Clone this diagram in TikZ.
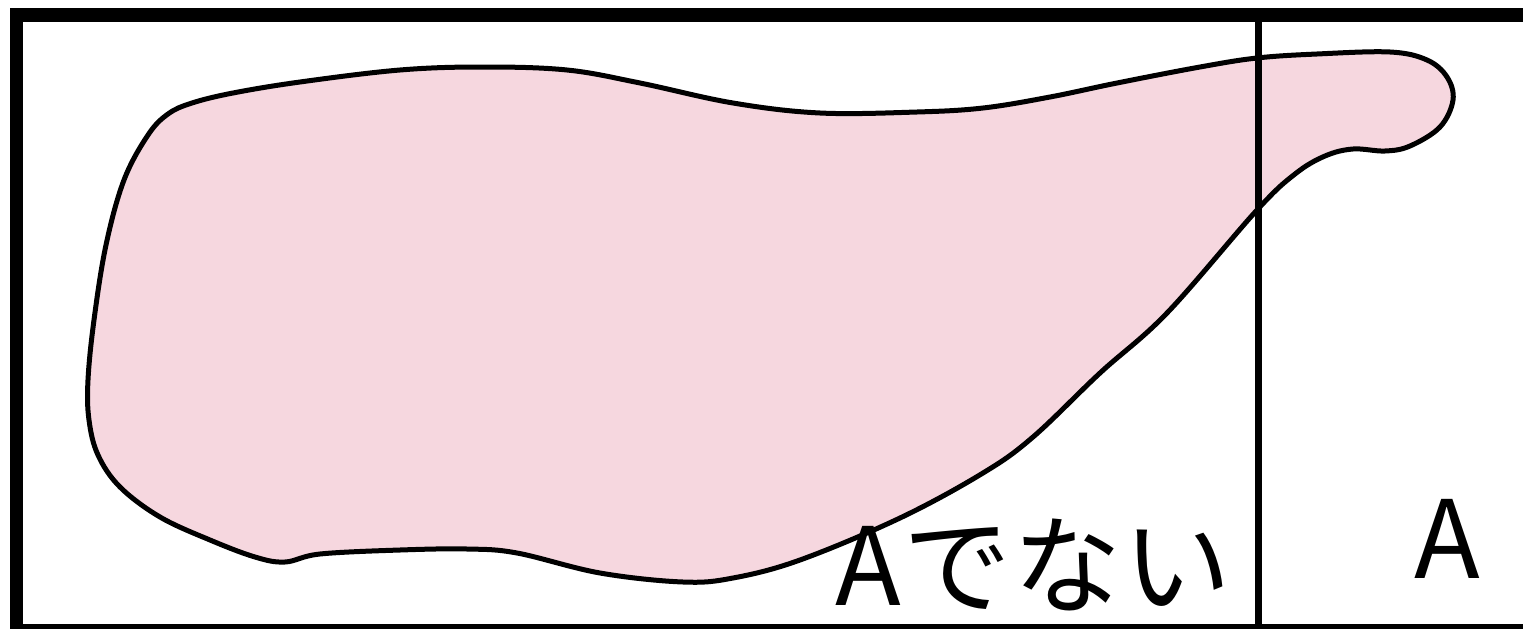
\documentclass[tikz,border=0pt]{standalone}
\usepackage{fontspec}
\setmainfont{Noto Sans CJK JP}
\usepackage{tikz}
\usepackage{xcolor}
\definecolor{ink}{HTML}{000000}
\definecolor{blobpink}{HTML}{F6D7DF}
\tikzset{
  frame/.style={draw=ink,line width=13.5pt},
  divider/.style={draw=ink,line width=7pt},
  blob/.style={draw=ink,fill=blobpink,line width=5pt,line join=round},
  setlabel/.style={inner sep=0pt,text=ink,
                   font=\fontsize{108}{120}\selectfont}
}
\begin{document}
\begin{tikzpicture}[x=1pt,y=-1pt]
    \path[use as bounding box] (0,0) rectangle (1523,629);
    \clip (0,0) rectangle (1523,629);

    % the set, drawn as a free blob
    \draw[blob] plot[smooth cycle,tension=0.6] coordinates {
      (192,103) (233,93) (300,82) (400,70) (483,67) (567,70) (640,83)
      (733,103) (820,113) (917,112) (983,108) (1050,97) (1117,83)
      (1200,67) (1257,58) (1317,54) (1390,52) (1427,60) (1447,77)
      (1453,100) (1440,127) (1410,146) (1385,151) (1353,149)
      (1325,156) (1295,174) (1257,210) (1167,313) (1100,373)
      (1033,437) (983,473) (900,518) (800,560) (733,578) (683,582)
      (600,573) (517,553) (467,549) (400,550) (320,554) (285,562)
      (255,557) (210,540) (160,517) (120,487) (98,455) (89,420)
      (88,380) (94,320) (106,245) (124,180) (148,135) (168,114)};

    % outer frame and the split between "not A" and "A"
    \draw[frame] (16.5,15) rectangle (1540,631);
    \coordinate (splittop) at (1258.5,15);
    \coordinate (splitbot) at (1258.5,631);
    \draw[divider] (splittop) -- (splitbot);

    \node[setlabel,anchor=base east] (notA) at (1232,605)
      {\addfontfeatures{LetterSpace=2}Aでない};
    \node[setlabel,anchor=base] (isA) at (1447,578) {A};
\end{tikzpicture}
\end{document}
